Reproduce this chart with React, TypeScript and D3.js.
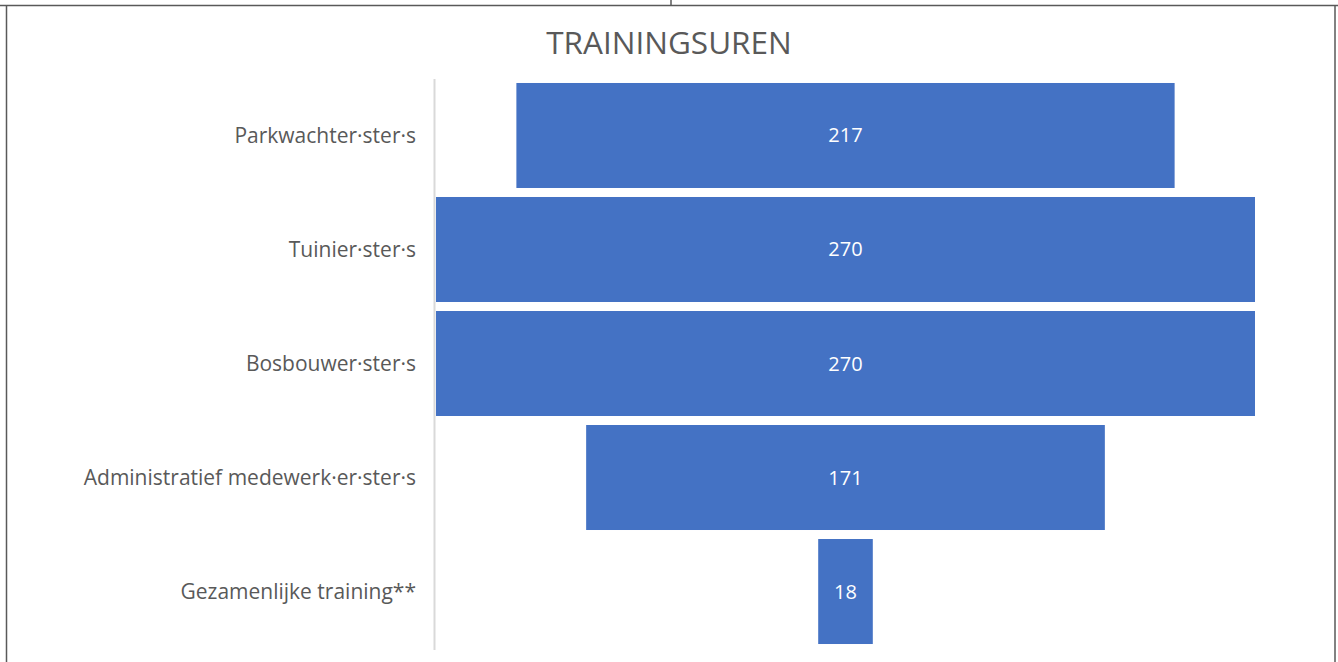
import React from "react";
import * as d3 from "d3";

const categories = [
  "Parkwachter·ster·s",
  "Tuinier·ster·s",
  "Bosbouwer·ster·s",
  "Administratief medewerk·er·ster·s",
  "Gezamenlijke training**",
];
const values = [217, 270, 270, 171, 18];
const title = "TRAININGSUREN";

const W = 1338;
const H = 662;
const FONT = "'Open Sans', 'Noto Sans', sans-serif";

export default function App() {
  const plotLeft = 436;
  const plotRight = 1255;
  const center = (plotLeft + plotRight) / 2;
  const x = d3.scaleLinear().domain([0, d3.max(values) as number]).range([0, plotRight - plotLeft]);
  const y = d3.scaleBand<string>().domain(categories).range([79, 648]).paddingInner(0.079).paddingOuter(0.035);

  return (
    <svg
      width={W}
      height={H}
      style={{ position: "absolute", left: 0, top: 0, display: "block", background: "#fff" }}
    >
      <rect x={0} y={0} width={W} height={H} fill="#fff" />
      {/* outer frame */}
      <line x1={0} x2={W} y1={5.5} y2={5.5} stroke="#595959" strokeWidth={1.5} />
      <line x1={671} x2={671} y1={0} y2={6} stroke="#595959" strokeWidth={1.5} />
      <line x1={6.5} x2={6.5} y1={5} y2={H} stroke="#595959" strokeWidth={1.5} />
      <line x1={1335} x2={1335} y1={5} y2={H} stroke="#595959" strokeWidth={1.5} />

      <text
        x={669}
        y={54}
        textAnchor="middle"
        fontFamily={FONT}
        fontSize={31.5}
        fill="#595959"
      >
        {title}
      </text>

      {categories.map((c, i) => {
        const w = x(values[i]);
        const by = y(c) as number;
        return (
          <g key={c}>
            <rect x={center - w / 2} y={by} width={w} height={y.bandwidth()} fill="#4472C4" />
            <text
              x={center}
              y={by + y.bandwidth() / 2}
              dy="0.35em"
              textAnchor="middle"
              fontFamily={FONT}
              fontSize={20}
              fill="#fff"
            >
              {values[i]}
            </text>
            <text
              x={416}
              y={by + y.bandwidth() / 2}
              dy="0.35em"
              textAnchor="end"
              fontFamily={FONT}
              fontSize={21}
              fill="#595959"
            >
              {c}
            </text>
          </g>
        );
      })}

      <line x1={434.5} x2={434.5} y1={79} y2={650} stroke="#d9d9d9" strokeWidth={2} />
    </svg>
  );
}
